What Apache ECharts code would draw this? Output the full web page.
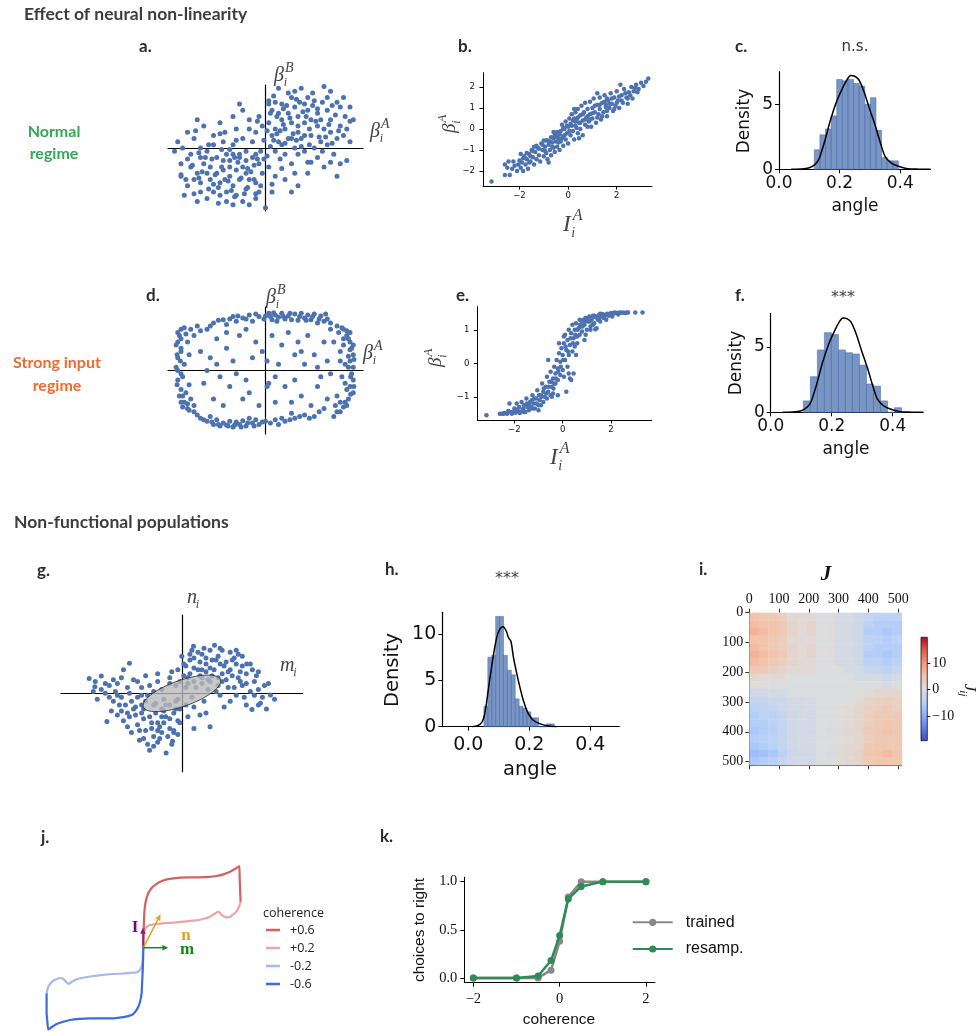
<!DOCTYPE html>
<html><head><meta charset="utf-8">
<script src="https://cdn.jsdelivr.net/npm/echarts@6.0.0/dist/echarts.min.js"></script>
<style>html,body{margin:0;padding:0;background:#fff}#c{width:980px;height:1032px}</style>
</head><body><div id="c"></div>
<script>
// ---------------- DATA ----------------
const scatterA = [[0.2,1.2],[0.5,0.9],[0.9,1.3],[1.2,0.8],[1.6,1.1],[2.0,0.9],[2.3,1.3],[1.4,0.4],[0.7,0.3],[0.3,0.6],[1.0,0.5],[1.8,0.6],[2.2,0.3],[2.6,0.2],[1.5,1.5],[0.8,1.6],[0.4,1.9],[1.1,1.9],[1.9,1.6],[2.4,1.6],[0.1,0.8],[0.6,0.6],[1.3,1.2],[1.7,0.2],[2.1,-0.2],[2.5,-0.4],[0.9,0.0],[0.4,0.2],[1.2,-0.1],[1.6,-0.3],[2.0,0.5],[0.5,1.4],[1.0,1.0],[1.4,0.9],[0.2,0.4],[0.7,1.1],[1.9,1.2],[2.3,0.7],[2.7,0.9],[1.1,0.3],[0.6,-0.2],[1.5,0.0],[1.8,-0.6],[1.3,-0.8],[2.2,-0.9],[0.8,-0.5],[0.3,-0.1],[1.0,0.7],[1.7,0.9],[0.9,1.8],[1.3,1.6],[0.1,1.5],[0.5,0.1],[2.0,1.8],[2.5,0.6],[1.6,0.7],[0.4,1.1],[1.2,0.4],[0.8,0.8],[1.9,0.1],[0.15,0.05],[0.35,0.45],[1.45,1.35],[2.15,1.05],[0.65,1.35],[1.05,1.45],[1.75,1.45],[2.45,1.0],[0.25,1.65],[1.35,0.1],[2.6,1.3],[0.55,0.75],[1.15,1.15],[1.85,0.35],[0.95,0.25],
[-0.3,-1.1],[-0.6,-0.8],[-1.0,-1.2],[-1.3,-0.7],[-1.7,-1.0],[-2.1,-0.8],[-2.4,-1.2],[-1.5,-0.3],[-0.8,-0.2],[-0.2,-0.5],[-1.1,-0.4],[-1.9,-0.5],[-2.3,-0.2],[-2.7,0.2],[-1.6,-1.4],[-0.9,-1.5],[-0.5,-1.8],[-1.2,-1.7],[-2.0,-1.4],[-2.5,-1.5],[-0.1,-0.8],[-0.7,-0.6],[-1.4,-1.1],[-1.8,-0.1],[-2.2,0.3],[-2.4,0.5],[-1.0,0.1],[-0.4,-0.3],[-1.3,0.2],[-1.6,0.4],[-2.0,-0.3],[-0.6,-1.3],[-1.1,-0.9],[-1.5,-0.8],[-0.3,-0.2],[-0.8,-1.0],[-2.0,-1.1],[-2.3,-0.6],[-2.6,-0.9],[-1.2,-0.2],[-0.7,0.3],[-1.6,0.1],[-1.9,0.7],[-1.4,0.8],[-2.1,0.9],[-0.9,0.6],[-0.4,0.2],[-1.1,-0.6],[-1.8,-0.8],[-1.0,-1.8],[-1.4,-1.5],[-0.2,-1.4],[-0.6,-0.1],[-2.1,-1.7],[-2.6,-0.5],[-1.7,-0.6],[-0.5,-1.0],[-1.3,-0.4],[-0.9,-0.7],[-2.0,0.0],[-0.15,-0.1],[-0.35,-0.55],[-1.45,-1.25],[-2.2,-1.0],[-0.65,-1.45],[-1.05,-1.35],[-1.75,-1.3],[-2.45,-1.0],[-0.3,-1.6],[-1.35,-0.05],[-2.55,0.0],[-0.55,-0.65],[-1.15,-1.05],[-1.85,-0.3],[-0.95,-0.3],
[0.1,-0.6],[-0.1,0.7],[0.3,-0.9],[-0.2,1.0],[0.6,-1.0],[-0.5,0.9],[0.2,-1.4],[-0.7,1.2],[1.0,-1.2],[-1.0,1.0],[0.0,-1.9],[0.1,1.4],[-0.3,0.5],[0.45,-0.35],[-2.8,-0.1],[2.3,-0.5],[0.8,-1.4],[-0.8,1.4],
[0.35,1.0],[0.75,0.95],[1.25,1.0],[1.55,0.85],[1.95,0.75],[2.25,0.55],[0.45,0.55],[0.85,0.45],[1.35,0.6],[1.65,0.35],[2.05,0.15],[0.25,0.25],[0.6,0.15],[1.0,-0.2],[1.4,-0.45],[1.75,-0.1],[0.15,1.1],[0.55,1.25],[0.95,1.55],[1.45,1.75],[1.8,1.95],[2.2,1.45],[2.6,0.85],[2.4,0.4],[0.05,0.55],[0.3,1.45],[0.7,1.75],[1.2,1.4],[1.6,1.25],[2.05,1.35],[0.8,0.3],[1.1,0.05],
[-0.35,-1.0],[-0.75,-0.95],[-1.25,-1.0],[-1.55,-0.85],[-1.95,-0.75],[-2.25,-0.55],[-0.45,-0.75],[-0.85,-0.45],[-1.35,-0.6],[-1.65,-0.35],[-2.05,-0.15],[-0.25,-0.35],[-0.6,-0.4],[-1.0,-0.2],[-1.4,0.45],[-1.75,0.1],[-0.15,-1.2],[-0.55,-1.25],[-0.95,-1.55],[-1.45,-1.75],[-1.8,-1.6],[-2.2,-1.45],[-2.6,-0.85],[-2.4,-0.35],[-0.05,-0.35],[-0.3,-1.45],[-0.7,-1.7],[-1.2,-1.4],[-1.6,-1.15],[-2.05,-0.95],[-0.8,-0.3],[-1.1,-0.05],
[0.05,-0.25],[-0.05,0.25],[0.5,-0.65],[-0.5,0.6],[0.9,-0.8],[-0.9,0.25],[1.3,-0.45],[-1.25,0.5],[0.2,-1.15],[-0.25,0.85],[2.0,-0.45],[-2.15,0.55]];

const scatterB = [[-3.15,-2.5],[-2.6,-1.7],[-2.6,-2.2],[-2.4,-2.2],[-2.3,-1.9],[-2.2,-1.75],[-2.1,-2.0],[-2.0,-1.5],[-1.95,-1.85],[-1.9,-1.6],[-1.85,-2.0],[-1.8,-1.3],[-1.75,-1.7],[-1.7,-1.45],[-1.65,-1.9],[-1.6,-1.2],[-1.55,-1.55],[-1.5,-1.0],[-1.45,-1.35],[-1.4,-1.7],[-1.35,-1.1],[-1.3,-1.45],[-1.25,-0.9],[-1.2,-1.25],[-1.15,-1.55],[-1.1,-0.7],[-1.05,-1.0],[-1.0,-1.3],[-0.95,-0.85],[-0.9,-0.55],[-0.9,-1.15],[-0.85,-1.45],[-0.8,-0.75],[-0.75,-1.0],[-0.7,-0.4],[-0.7,-1.25],[-0.65,-0.65],[-0.6,-0.9],[-0.55,-0.3],[-0.55,-1.1],[-0.5,-0.6],[-0.45,-0.15],[-0.45,-0.85],[-0.4,-0.45],[-0.35,-1.0],[-0.3,-0.1],[-0.3,-0.6],[-0.25,0.2],[-0.2,-0.35],[-0.2,-0.8],[-0.15,0.0],[-0.1,-0.5],[-0.1,0.35],[-0.05,-0.2],[0.0,0.1],[0.0,-0.7],[0.05,0.5],[0.1,-0.3],[0.1,0.25],[0.15,0.7],[0.2,-0.1],[0.2,0.4],[0.25,-0.5],[0.3,0.15],[0.3,0.8],[0.35,0.45],[0.4,-0.2],[0.4,0.95],[0.45,0.3],[0.5,0.65],[0.5,0.0],[0.55,1.1],[0.6,0.4],[0.6,-0.3],[0.65,0.8],[0.7,0.2],[0.7,1.25],[0.75,0.55],[0.8,0.95],[0.85,0.35],[0.9,1.3],[0.9,0.7],[0.95,0.1],[1.0,1.0],[1.0,0.5],[1.05,1.45],[1.1,0.8],[1.15,0.3],[1.2,1.15],[1.25,0.7],[1.3,1.5],[1.3,0.95],[1.35,0.45],[1.4,1.25],[1.45,0.8],[1.5,1.6],[1.55,1.05],[1.6,0.6],[1.65,1.35],[1.7,1.0],[1.75,1.7],[1.8,1.2],[1.85,0.85],[1.9,1.5],[1.95,1.1],[2.0,1.8],[2.05,1.35],[2.1,1.0],[2.2,1.6],[2.25,1.25],[2.3,1.9],[2.4,1.5],[2.45,1.2],[2.5,1.75],[2.6,2.0],[2.65,1.45],[2.7,1.8],[2.8,2.1],[2.9,1.9],[3.0,2.2],[3.1,2.05],[3.3,2.4],[-1.0,-0.55],[-0.6,-0.15],[0.25,0.95],[0.8,0.1],[1.6,1.45],[-1.4,-0.85],[2.15,2.1],[-0.8,-1.6],[1.2,1.7],[0.45,-0.45],[-2.45,-1.55],[-1.95,-1.2],
[-2.5,-1.85],[-2.25,-1.55],[-2.05,-1.7],[-1.85,-1.4],[-1.7,-1.15],[-1.55,-1.3],[-1.45,-1.05],[-1.3,-0.8],[-1.2,-0.95],[-1.05,-0.75],[-0.95,-1.05],[-0.85,-0.55],[-0.75,-0.6],[-0.65,-0.85],[-0.6,-0.45],[-0.5,-0.35],[-0.4,-0.65],[-0.35,-0.25],[-0.25,-0.45],[-0.15,-0.3],[-0.05,0.15],[0.05,-0.1],[0.15,0.15],[0.25,0.5],[0.35,0.05],[0.4,0.55],[0.5,0.3],[0.6,0.7],[0.7,0.45],[0.8,0.6],[0.9,0.45],[1.0,0.75],[1.1,1.1],[1.2,0.55],[1.3,1.15],[1.4,0.6],[1.5,1.3],[1.6,0.85],[1.7,1.2],[1.8,1.45],[1.9,0.95],[2.0,1.25],[2.1,1.55],[2.2,1.35],[2.35,1.7],[2.45,1.45],[2.55,1.6],[2.75,1.95],[2.85,1.75],[3.2,2.25],[-0.2,0.05],[0.3,0.35],[-1.6,-1.6],[1.55,1.15]];

const scatterD = [[-1.6,1.5],[-1.3,1.6],[-1.0,1.7],[-0.7,1.65],[-0.5,1.75],[-0.2,1.7],[0.1,1.8],[0.3,1.75],[0.5,1.8],[0.7,1.72],[0.9,1.78],[1.1,1.8],[1.3,1.75],[1.5,1.78],[1.7,1.72],[1.9,1.62],[0.2,1.6],[0.6,1.62],[1.0,1.58],[1.4,1.6],[0.4,1.68],[0.8,1.6],[1.2,1.65],[-0.9,1.55],[-1.2,1.45],[-0.4,1.55],[1.6,1.5],[2.0,1.5],[-1.8,1.3],[-0.05,1.62],[1.85,1.78],[0.15,1.7],
[2.2,1.4],[2.4,1.3],[2.5,1.1],[2.6,0.9],[2.65,0.7],[2.7,0.5],[2.6,0.3],[2.7,0.1],[2.65,-0.1],[2.7,-0.3],[2.6,-0.5],[2.7,-0.7],[2.55,-0.9],[2.5,-1.1],[2.3,-1.3],[2.1,-1.45],[2.4,0.8],[2.3,0.6],[2.45,0.2],[2.35,-0.2],[2.5,-0.6],[2.2,-0.8],[2.4,1.0],[2.55,0.45],[2.25,1.2],[2.1,0.9],[2.45,-0.4],[2.3,-1.0],[2.6,1.2],[2.0,1.3],
[-2.0,-1.5],[-1.8,-1.6],[-1.6,-1.7],[-1.4,-1.75],[-1.2,-1.72],[-1.0,-1.78],[-0.8,-1.7],[-0.6,-1.75],[-0.4,-1.65],[-0.2,-1.7],[0.0,-1.6],[0.3,-1.55],[0.6,-1.6],[0.9,-1.5],[1.2,-1.4],[1.5,-1.45],[-1.5,-1.55],[-1.1,-1.6],[-0.7,-1.58],[-1.3,-1.65],[-0.9,-1.62],[-1.7,-1.45],[-0.3,-1.55],[0.8,-1.35],[1.8,-1.2],[-2.2,-1.3],[-0.5,-1.5],[0.4,-1.7],
[-2.7,1.2],[-2.6,1.0],[-2.75,0.8],[-2.6,0.6],[-2.7,0.4],[-2.75,0.1],[-2.6,-0.1],[-2.7,-0.3],[-2.6,-0.6],[-2.65,-0.8],[-2.5,-1.0],[-2.4,-1.2],[-2.3,-0.9],[-2.45,-0.7],[-2.3,1.3],[-2.1,1.4],[-2.4,0.9],[-2.35,0.5],[-2.5,0.2],[-2.2,-1.1],[-2.55,-1.15],[-2.35,-0.45],[-2.2,1.1],[-2.0,1.25],[-2.5,1.35],
[-1.5,1.0],[-1.2,0.7],[-0.8,1.1],[-0.3,0.9],[-1.7,0.4],[-1.0,0.3],[-0.4,0.4],[0.2,1.1],[0.7,1.2],[1.3,1.1],[1.8,0.9],[1.5,0.5],[0.9,0.5],[0.4,0.2],[1.2,0.2],[1.9,0.3],[0.1,-0.4],[0.6,-0.5],[1.1,-0.8],[1.6,-0.5],[1.9,-0.9],[0.8,-1.0],[-0.6,-0.3],[-1.1,-0.5],[-1.6,-0.9],[-1.9,-0.4],[-1.3,-1.1],[-0.7,-0.9],[-0.2,-1.1],[0.3,-1.0],[-1.8,0.0],[-0.9,-0.1],[1.4,-1.1],[0.05,-0.5],[0.05,0.3],[-0.6,1.3],[1.0,0.9],[-1.4,-0.2],[1.7,-0.2],[-2.0,0.6],[2.0,-0.1],
[-1.45,1.58],[-1.1,1.62],[-0.85,1.72],[-0.6,1.62],[-0.3,1.78],[0.0,1.72],[0.25,1.82],[0.55,1.7],[0.75,1.8],[1.05,1.7],[1.25,1.58],[1.45,1.7],[1.65,1.62],[1.8,1.55],[-1.7,1.4],[0.35,1.55],
[2.35,1.35],[2.5,1.25],[2.55,1.0],[2.7,0.8],[2.6,0.65],[2.72,0.35],[2.55,0.1],[2.62,-0.2],[2.72,-0.5],[2.62,-0.75],[2.45,-1.0],[2.4,-1.15],[2.2,-1.3],[2.15,-1.1],[2.3,0.3],
[-1.9,-1.55],[-1.65,-1.62],[-1.45,-1.7],[-1.15,-1.75],[-0.95,-1.72],[-0.75,-1.78],[-0.55,-1.65],[-0.35,-1.75],[-0.1,-1.62],[0.15,-1.65],[0.5,-1.5],[0.75,-1.55],[1.05,-1.45],[1.35,-1.5],[1.65,-1.3],[-2.1,-1.4],
[-2.65,1.1],[-2.7,0.9],[-2.6,0.7],[-2.72,0.5],[-2.62,0.3],[-2.7,0.0],[-2.55,-0.2],[-2.72,-0.45],[-2.55,-0.8],[-2.6,-1.0],[-2.4,-1.05],[-2.35,-1.25],[-2.45,1.15],[-2.6,1.3],
[-1.2,1.2],[0.5,0.8],[1.1,0.6],[-0.5,-0.7],[0.3,-0.2],[-1.5,0.2],[1.6,0.1],[-0.1,0.6],[0.9,-0.3]];

const scatterE = [[-3.15,-1.55],[-2.6,-1.5],[-2.4,-1.48],[-2.3,-1.5],[-2.2,-1.2],[-2.15,-1.45],[-2.1,-1.5],[-2.0,-1.35],[-1.95,-1.47],[-1.9,-1.2],[-1.85,-1.42],[-1.8,-1.3],[-1.75,-1.45],[-1.7,-1.15],[-1.65,-1.38],[-1.6,-1.25],[-1.55,-1.45],[-1.5,-1.05],[-1.45,-1.3],[-1.4,-1.4],[-1.35,-1.15],[-1.3,-1.3],[-1.25,-0.95],[-1.2,-1.2],[-1.15,-1.35],[-1.1,-1.05],[-1.05,-0.8],[-1.0,-1.25],[-0.95,-1.1],[-0.9,-0.95],[-0.85,-0.6],[-0.8,-1.15],[-0.8,-0.85],[-0.75,-1.0],[-0.7,-0.7],[-0.65,-0.4],[-0.65,-1.05],[-0.6,-0.85],[-0.55,-0.55],[-0.5,-0.95],[-0.5,-0.25],[-0.45,-0.7],[-0.4,-0.45],[-0.4,-0.9],[-0.35,-0.1],[-0.3,-0.6],[-0.3,-0.3],[-0.25,0.1],[-0.2,-0.5],[-0.2,-0.15],[-0.15,0.3],[-0.1,-0.35],[-0.1,0.05],[-0.05,0.45],[0.0,-0.2],[0.0,0.25],[0.05,0.6],[0.05,-0.4],[0.1,0.1],[0.1,0.85],[0.15,0.4],[0.2,-0.1],[0.2,0.7],[0.25,1.0],[0.25,0.25],[0.3,0.55],[0.35,0.9],[0.35,-0.5],[0.4,0.35],[0.4,1.15],[0.45,0.75],[0.5,1.0],[0.5,0.5],[0.55,1.2],[0.6,0.8],[0.6,0.6],[0.65,1.05],[0.7,1.3],[0.7,0.85],[0.75,1.1],[0.8,0.95],[0.85,1.3],[0.9,1.15],[0.9,0.7],[0.95,1.35],[1.0,1.0],[1.05,1.25],[1.1,1.4],[1.15,1.1],[1.2,1.3],[1.25,1.42],[1.3,1.2],[1.35,1.38],[1.4,1.05],[1.45,1.3],[1.5,1.44],[1.55,1.25],[1.6,1.4],[1.65,1.46],[1.7,1.35],[1.75,1.45],[1.8,1.3],[1.85,1.48],[1.9,1.42],[2.0,1.5],[2.05,1.4],[2.1,1.48],[2.2,1.5],[2.3,1.46],[2.4,1.51],[2.5,1.52],[2.6,1.5],[2.7,1.52],[3.0,1.52],[3.3,1.52],[1.15,1.0],[1.35,1.02],[0.3,-0.45],[-0.2,-0.95],[-1.6,-1.45],[-2.5,-1.5],[-1.0,-1.4],[0.8,1.25],[1.55,1.48],[-0.45,-1.0],[-1.25,-1.35],[2.15,1.52],[0.45,-0.3],[-0.6,0.1],[0.15,-0.85],
[-2.45,-1.5],[-2.25,-1.42],[-2.05,-1.45],[-1.9,-1.38],[-1.78,-1.48],[-1.62,-1.35],[-1.48,-1.2],[-1.38,-1.25],[-1.28,-1.1],[-1.18,-1.05],[-1.08,-1.2],[-0.98,-0.95],[-0.88,-1.0],[-0.78,-0.75],[-0.68,-0.9],[-0.58,-0.7],[-0.48,-0.55],[-0.38,-0.75],[-0.28,-0.45],[-0.18,-0.25],[-0.08,-0.1],[0.02,0.1],[0.12,0.5],[0.22,0.35],[0.32,0.75],[0.42,0.6],[0.52,0.85],[0.62,1.0],[0.72,1.15],[0.82,1.1],[0.92,1.25],[1.02,1.32],[1.12,1.25],[1.22,1.38],[1.32,1.42],[1.42,1.4],[1.52,1.35],[1.62,1.47],[1.72,1.42],[1.82,1.46],[1.95,1.47],[2.08,1.5],[2.25,1.5],[2.35,1.52],[2.55,1.5],[2.65,1.52],[0.55,0.25],[0.05,0.8],[-0.35,-0.6],[-0.9,-1.25],[1.25,1.15],[0.95,0.85],[-0.15,0.6],[0.25,-0.3]];

const scatterG = [[0.1,0.7],[0.3,0.9],[0.5,1.0],[0.7,1.1],[0.9,0.95],[1.1,0.8],[1.3,0.9],[1.5,0.7],[0.2,0.5],[0.4,0.6],[0.6,0.75],[0.8,0.6],[1.0,0.5],[1.2,0.6],[1.4,0.4],[1.6,0.5],[1.8,0.3],[0.3,0.3],[0.5,0.4],[0.7,0.3],[0.9,0.2],[1.1,0.35],[1.3,0.15],[1.5,0.2],[1.7,0.05],[1.9,0.1],[2.0,-0.1],[2.2,-0.04],[0.81,1.23],[0.29,1.2],[1.0,1.1],[1.2,1.05],[1.61,0.75],[0.6,0.55],[0.85,0.85],[1.05,0.7],[0.45,0.8],[0.15,0.25],[0.35,0.15],[0.65,0.1],[1.25,0.45],[1.45,0.55],[1.75,0.6],[1.55,-0.1],[1.74,-0.41],[1.9,-0.3],[1.2,-0.2],[0.95,-0.05],[0.55,-0.2],[0.25,-0.1],[0.05,0.45],[0.0,0.95],[-0.1,0.6],[0.75,0.45],[1.35,0.75],[2.05,0.2],[1.95,-0.25],[2.1,-0.4],[1.6,0.25],[0.4,1.05],[0.9,0.4],[1.15,0.15],[0.2,0.85],[0.7,0.65],[1.4,1.0],[1.85,0.45],[-0.05,0.3],[0.5,0.25],[1.05,-0.35],[0.7,-0.85],[0.45,-0.55],
[-0.1,-0.7],[-0.3,-0.9],[-0.5,-1.0],[-0.7,-1.1],[-0.9,-0.95],[-1.1,-0.8],[-1.3,-0.6],[-0.2,-0.5],[-0.4,-0.6],[-0.6,-0.75],[-0.8,-0.6],[-1.0,-0.5],[-1.2,-0.4],[-1.4,-0.3],[-0.3,-0.3],[-0.5,-0.4],[-0.7,-0.3],[-0.9,-0.2],[-1.1,-0.1],[-1.3,0.0],[-1.5,-0.1],[-0.39,-1.52],[-0.23,-1.22],[-0.6,-1.25],[-0.85,-1.3],[-1.05,-1.2],[-1.25,-1.0],[-1.86,-0.72],[-1.6,-0.55],[-1.7,-0.2],[-1.9,0.0],[-2.0,0.1],[-1.8,0.2],[-1.6,0.25],[-2.3,0.38],[-2.0,0.44],[-2.16,0.17],[-1.3,0.77],[-1.1,0.3],[-0.8,0.2],[-0.5,0.1],[-0.3,0.25],[-0.15,-0.2],[-0.45,-0.15],[-0.65,-0.5],[-0.95,-0.65],[-1.15,-0.35],[-1.45,-0.7],[-0.35,-1.1],[-0.55,-0.85],[-0.75,-0.9],[-1.5,0.4],[-1.2,0.35],[-0.9,0.45],[-0.6,0.5],[-1.75,-0.45],[-1.35,-0.85],[-0.2,-0.95],[-0.05,-0.4],[-0.8,-1.45],[-1.0,-0.05],[-0.4,-0.3],[-1.65,0.05],[-2.1,-0.15],[-0.25,0.55],[-0.7,0.05],[-1.55,-0.3],[-0.45,-0.75],[-1.0,0.15],[-0.1,-1.05],[0.15,-0.6],[0.3,-0.9],
[0.2,1.0],[0.55,1.15],[0.95,1.15],[1.35,1.1],[0.15,0.4],[0.45,0.45],[0.75,0.85],[1.0,0.3],[1.25,0.85],[1.5,0.95],[1.7,0.75],[1.9,0.55],[2.15,0.25],[1.6,-0.3],[1.35,-0.05],[0.85,0.05],[0.6,0.9],[0.3,0.65],[0.1,0.15],[1.15,0.55],[0.95,0.75],[0.5,0.6],[0.25,1.1],[1.8,-0.05],[2.3,-0.15],[0.05,0.75],[0.65,0.35],[1.45,0.3],
[-0.2,-1.0],[-0.55,-1.15],[-0.95,-1.15],[-1.35,-0.5],[-0.15,-0.4],[-0.45,-0.45],[-0.75,-0.75],[-1.0,-0.3],[-1.25,-0.2],[-1.5,-0.45],[-1.7,0.35],[-1.9,0.25],[-2.15,0.3],[-1.6,-0.05],[-1.35,0.15],[-0.85,-0.05],[-0.6,-0.95],[-0.3,-0.65],[-0.1,-0.15],[-1.15,-0.55],[-0.95,-0.4],[-0.5,-0.6],[-0.25,-1.3],[-1.8,-0.1],[-2.2,0.05],[-0.05,-0.75],[-0.65,-0.25],[-1.45,0.6],[-0.7,-1.35],[-1.05,-0.95],
[0.3,-0.35],[-0.3,0.4],[0.6,-0.5],[-0.6,0.3],[0.1,-0.3],[-0.15,0.2]];
const ellipseG = [[0, 0, 1.02, 0.33, 20]]; // cx, cy, semi-major, semi-minor, angle(deg)

// histograms
const cBinEdges = [0.1165,0.135,0.1535,0.172,0.1905,0.209,0.2275,0.246,0.2645,0.283,0.3015,0.32,0.3385,0.357,0.3755,0.394];
const cBinHeights = [1.5,2.65,3.1,4.1,6.9,6.8,6.9,6.6,6.4,5.0,5.5,3.0,0.9,0.65,0.65];
const fBinEdges = [0.107,0.130,0.153,0.176,0.199,0.222,0.245,0.268,0.291,0.314,0.337,0.360,0.383,0.406,0.429];
const fBinHeights = [0.87,2.72,4.76,6.08,5.95,4.76,4.55,4.45,3.6,2.16,2.0,0.87,0,0.35];
const hBinEdges = [0.0515,0.0643,0.0771,0.0899,0.1027,0.1155,0.1283,0.1411,0.1539,0.1667,0.1795,0.1923,0.2051,0.2179,0.2307,0.2435,0.2563,0.2691,0.2819];
const hBinHeights = [2.2,7.5,7.7,11.9,11.9,7.7,6.1,5.6,3.0,2.2,2.0,1.6,0.95,0.95,0,0,0.3,0.3];
const kdeRefX = [0.04,0.07,0.10,0.12,0.133,0.152,0.17,0.19,0.209,0.225,0.237,0.25,0.263,0.28,0.298,0.317,0.335,0.35,0.37,0.392,0.42,0.46,0.5];
const kdeRefY = [0,0.02,0.12,0.4,0.85,2.25,3.8,5.2,6.2,6.9,7.2,7.15,6.9,6.0,4.7,3.4,2.0,1.0,0.5,0.25,0.07,0.01,0];
const kdeHX = [0.012,0.03,0.045,0.052,0.06,0.067,0.074,0.08,0.087,0.094,0.1,0.108,0.114,0.118,0.125,0.132,0.14,0.148,0.156,0.164,0.172,0.18,0.19,0.197,0.213,0.236,0.258,0.29];
const kdeHY = [0,0.1,0.5,1.1,2.6,4.3,5.9,7.2,8.6,9.7,10.3,10.7,10.8,10.7,10.3,9.6,9.2,7.5,6.2,5.0,3.9,2.9,1.9,1.4,0.7,0.3,0.1,0];

// connectivity matrix J (block-averaged)
const heatColEdges = [0,32,64,96,128,160,192,224,256,288,320,352,384,416,448,480,512];
const heatRowEdges = [0,25.6,51.2,76.8,102.4,128,153.6,179.2,204.8,230.4,256,281.6,307.2,332.8,358.4,384,409.6,435.2,460.8,486.4,512];
const heatValues = [
[5,4,4,3,1,1,1,0,0,-1,-1,-2,-3,-4,-4,-4],
[6,5,5,4,2,1,2,0,0,-1,-1,-2,-4,-5,-5,-5],
[7,6,5,4,2,1,2,0,1,-1,-1,-2,-5,-5,-6,-5],
[5,5,4,3,1,1,1,0,0,-1,-1,-2,-4,-4,-5,-4],
[6,5,4,3,2,1,2,0,0,-1,-1,-2,-4,-5,-5,-5],
[7,6,5,4,2,1,2,0,1,-1,-1,-2,-5,-5,-6,-5],
[6,5,4,3,2,1,1,0,0,-1,-1,-2,-4,-4,-5,-4],
[4,4,3,2,1,1,1,0,0,0,-1,-1,-3,-3,-4,-3],
[2,1,1,1,0,0,0,0,0,0,0,-1,-1,-1,-2,-1],
[0.5,0,0,0,0,0,0,0,0,0,0,0,0,0,-0.5,0],
[-1.5,-1.5,-1,-1,0,0,0,0,0,0,0,0.5,1,1.5,1.5,1.5],
[-3,-3,-2,-2,-1,-1,-1,0,0,0,0.5,1,2,2.5,3,2.5],
[-4,-4,-3,-2,-1,-1,-1,0,0,0.5,1,1.5,3,3,4,3],
[-5,-4,-4,-3,-1.5,-1,-1.5,0,0,0.5,1,1.5,3,4,4,4],
[-5,-5,-4,-3,-1.5,-1,-1.5,0,0,0.5,1,2,3,4,4.5,4],
[-6,-5,-4.5,-3,-1.5,-1,-1.5,0,-0.5,1,1.5,2,4,4.5,5,4.5],
[-5,-4.5,-4,-3,-1.5,-1,-1,0,0,0.5,1,1.5,3,4,4,4],
[-6,-5,-4.5,-3,-1.5,-1,-1.5,0,0,1,1.5,2,4,4.5,4.5,4.5],
[-7.5,-7,-6,-4,-2,-1.5,-1.5,0,-0.5,1,1.5,2.5,4.5,5,6,5],
[-6,-5,-4.5,-3,-1.5,-1,-1.5,0,0,1,1.5,2,4,4.5,4.5,4.5]];
const colorbarRange = [-19.5, 20];
const heatTicks = [0,100,200,300,400,500];
const colorbarTicks = [-10,0,10];

// trajectories (panel j)
const trajP06 = [[0,0],[0.03,1.5],[0.07,2.77],[0.12,3.7],[0.2,4.4],[0.35,5.05],[0.6,5.65],[1.0,6.15],[1.5,6.5],[2.0,6.72],[2.8,6.9],[3.67,7.0],[4.6,7.04],[5.67,7.04],[6.6,7.08],[7.33,7.17],[8.0,7.33],[8.67,7.6],[9.2,7.9],[9.6,8.17],[9.63,7.2],[9.67,6.1],[9.73,4.6]];
const trajP02 = [[0,0],[0.05,1.0],[0.1,1.7],[0.3,2.05],[0.6,2.25],[1.33,2.37],[2.2,2.45],[3.0,2.5],[4.0,2.6],[5.0,2.7],[5.9,2.85],[6.67,3.1],[7.2,3.45],[7.5,3.6],[7.7,3.45],[7.9,3.2],[8.33,3.04],[8.7,3.1],[9.0,3.34],[9.3,3.6],[9.5,3.94],[9.65,4.3],[9.73,4.6]];
const trajM02 = [[0,0],[-0.07,-1.23],[-0.15,-1.8],[-0.33,-2.23],[-0.6,-2.42],[-1.0,-2.5],[-2.0,-2.58],[-3.0,-2.63],[-4.0,-2.72],[-5.0,-2.83],[-5.9,-2.98],[-6.67,-3.16],[-7.2,-3.45],[-7.5,-3.63],[-7.7,-3.45],[-7.83,-3.3],[-8.1,-3.05],[-8.33,-3.03],[-8.7,-3.15],[-9.0,-3.3],[-9.3,-3.6],[-9.5,-3.9],[-9.67,-4.56]];
const trajM06 = [[0,0],[-0.03,-1.5],[-0.07,-2.56],[-0.12,-3.6],[-0.17,-4.56],[-0.3,-5.3],[-0.5,-5.9],[-0.8,-6.4],[-1.17,-6.73],[-2.0,-6.95],[-3.0,-7.06],[-4.2,-7.06],[-5.33,-7.06],[-6.4,-7.12],[-7.33,-7.23],[-8.0,-7.4],[-8.67,-7.63],[-9.1,-7.9],[-9.5,-8.16],[-9.6,-7.3],[-9.67,-6.56],[-9.67,-5.5],[-9.67,-4.56]];
const coherenceNames = ['+0.6','+0.2','-0.2','-0.6'];
const vecI = [0, 0, -0.05, 2.0];
const vecN = [0, 0, 1.73, 3.34];
const vecM = [0, 0, 2.5, 0];

// psychometric (panel k)
const kCoh = [-2,-1,-0.5,-0.2,0,0.2,0.5,1,2];
const kTrained = [0,0,0,0.08,0.38,0.84,1.0,1.0,1.0];
const kResamp = [0,0,0.02,0.18,0.44,0.82,0.95,1.0,1.0];

// ---------------- STYLE / HELPERS ----------------
const BLUE = '#4c72b0';
const COOLWARM = ['#3b4cc0','#5f7fe8','#8db0fe','#b8d0f9','#dddddd','#f4c3a9','#f4987a','#dc5d4a','#b40426'];
const minus = v => (v < 0 ? '\u2212' : '') + Math.abs(v);
const grids = [
  {left:168, top:85, width:195, height:126},      // 0 a
  {left:483, top:72.7, width:169, height:113.3},  // 1 b
  {left:779, top:71.7, width:151.5, height:97.6}, // 2 c
  {left:168, top:307, width:195, height:127},     // 3 d
  {left:477.3, top:306.7, width:174.4, height:113.3}, // 4 e
  {left:770.7, top:313.3, width:152.5, height:99}, // 5 f
  {left:61, top:615, width:241.7, height:156.7},   // 6 g
  {left:442.3, top:612.3, width:177, height:114.4}, // 7 h
  {left:749.3, top:612.7, width:152.4, height:152.4}, // 8 i
  {left:921, top:637.3, width:6.3, height:103.4},  // 9 colorbar
  {left:23.3, top:857.7, width:240, height:174},   // 10 j
  {left:464.3, top:877.3, width:190.7, height:105.4} // 11 k
].map(g => Object.assign({outerBoundsMode:'none', containLabel:false}, g));

function crossAxis(gi, min, max) {
  return {gridIndex:gi, type:'value', min, max,
    axisLine:{show:true, onZero:true, lineStyle:{color:'#000', width:1.2}},
    axisTick:{show:false}, axisLabel:{show:false}, splitLine:{show:false}};
}
function valAxis(gi, min, max, o) {
  o = o || {};
  const col = o.lineColor || '#000';
  return {gridIndex:gi, type:'value', min, max, position:o.position, inverse:!!o.inverse,
    axisLine:{show:o.line !== false, onZero:false, lineStyle:{color:col, width:o.lw || 1}},
    axisTick: o.ticks ? {show:true, customValues:o.ticks, length:o.tickLen || 3.5, inside:false, lineStyle:{color:col, width:1}} : {show:false},
    axisLabel: o.labels ? {show:true, customValues:o.labels, margin:o.margin || 5, fontSize:o.fs || 9,
      fontFamily:o.ff || 'DejaVu Sans', color:'#111', formatter:o.fmt || minus} : {show:false},
    splitLine:{show:false}};
}
function hiddenAxis(gi, min, max) { return {gridIndex:gi, type:'value', min, max, show:false, splitLine:{show:false}}; }

const xAxes = [
  crossAxis(0,-3,3),
  valAxis(1,-3.5,3.45,{ticks:[-2,0,2], labels:[-2,0,2], fs:8.5, margin:5}),
  valAxis(2,0,0.5,{ticks:[0,0.2,0.4], labels:[0,0.2,0.4], fs:17, margin:6, tickLen:4, lw:1.2, fmt:v=>v.toFixed(1)}),
  crossAxis(3,-3,3),
  valAxis(4,-3.53,3.68,{ticks:[-2,0,2], labels:[-2,0,2], fs:8.5, margin:5}),
  valAxis(5,0,0.5,{ticks:[0,0.2,0.4], labels:[0,0.2,0.4], fs:17, margin:6, tickLen:4, lw:1.2, fmt:v=>v.toFixed(1)}),
  crossAxis(6,-3,3),
  valAxis(7,-0.085,0.495,{ticks:[0,0.2,0.4], labels:[0,0.2,0.4], fs:19, margin:9, tickLen:4, lw:1.2, fmt:v=>v.toFixed(1)}),
  valAxis(8,0,512,{position:'top', line:false, ticks:heatTicks, labels:heatTicks, fs:14, ff:'Liberation Serif', margin:6, tickLen:4, lineColor:'#333'}),
  hiddenAxis(9,0,1),
  hiddenAxis(10,-12,12),
  valAxis(11,-2.21,2.21,{ticks:[-2,0,2], labels:[-2,0,2], fs:14.5, ff:'Liberation Serif', margin:9, tickLen:4}),
  valAxis(8,0,512,{position:'bottom', ticks:heatTicks, tickLen:4, lineColor:'#333'})
];
const yAxes = [
  crossAxis(0,-2,2),
  valAxis(1,-2.72,2.68,{ticks:[-2,-1,0,1,2], labels:[-2,-1,0,1,2], fs:8.5, margin:8}),
  valAxis(2,0,7.5,{ticks:[0,5], labels:[0,5], fs:17, margin:6, tickLen:4, lw:1.2}),
  crossAxis(3,-2,2),
  valAxis(4,-1.69,1.69,{ticks:[-1,0,1], labels:[-1,0,1], fs:8.5, margin:8}),
  valAxis(5,0,7.56,{ticks:[0,5], labels:[0,5], fs:17, margin:6, tickLen:4, lw:1.2}),
  crossAxis(6,-2,2),
  valAxis(7,0,12.35,{ticks:[0,5,10], labels:[0,5,10], fs:19, margin:6, tickLen:4, lw:1.2}),
  valAxis(8,0,512,{inverse:true, ticks:heatTicks, labels:heatTicks, fs:14, ff:'Liberation Serif', margin:6, tickLen:4, lineColor:'#333'}),
  valAxis(9,colorbarRange[0],colorbarRange[1],{position:'right', line:false, ticks:colorbarTicks, labels:colorbarTicks, fs:14, ff:'Liberation Serif', margin:5, tickLen:3}),
  hiddenAxis(10,-8.4,9),
  valAxis(11,-0.05,1.045,{ticks:[0,0.5,1], labels:[0,0.5,1], fs:14.5, ff:'Liberation Serif', margin:7, tickLen:4, fmt:v=>v.toFixed(1)})
];

function histRender(params, api) {
  const p0 = api.coord([api.value(0), api.value(2)]);
  const p1 = api.coord([api.value(1), 0]);
  return {type:'rect', shape:{x:p0[0], y:p0[1], width:p1[0]-p0[0], height:p1[1]-p0[1]},
    style:{fill:'rgba(76,114,176,0.75)', stroke:'rgba(76,114,176,0.95)', lineWidth:0.6}};
}
function histData(edges, h) { return h.map((v,i) => [edges[i], edges[i+1], v]); }
function zip(xs, ys) { return xs.map((x,i) => [x, ys[i]]); }
function heatRender(params, api) {
  const a = api.coord([api.value(0), api.value(2)]);
  const b = api.coord([api.value(1), api.value(3)]);
  return {type:'rect', shape:{x:Math.min(a[0],b[0]), y:Math.min(a[1],b[1]), width:Math.abs(b[0]-a[0])+0.4, height:Math.abs(b[1]-a[1])+0.4},
    style:{fill:api.visual('color')}};
}
const heatData = [];
heatValues.forEach((row, r) => row.forEach((v, c) => heatData.push([heatColEdges[c], heatColEdges[c+1], heatRowEdges[r], heatRowEdges[r+1], v])));
function colorbarRender(params, api) {
  const a = api.coord([0, api.value(1)]), b = api.coord([1, api.value(0)]);
  const stops = COOLWARM.slice().reverse().map((c,i,arr) => ({offset:i/(arr.length-1), color:c}));
  return {type:'rect', shape:{x:a[0], y:a[1], width:b[0]-a[0], height:b[1]-a[1]},
    style:{fill:new echarts.graphic.LinearGradient(0,0,0,1,stops), stroke:'#111', lineWidth:0.8}};
}
function ellipseRender(params, api) {
  const cx=api.value(0), cy=api.value(1), a=api.value(2), b=api.value(3), th=api.value(4)*Math.PI/180;
  const pts = [];
  for (let k = 0; k <= 90; k++) {
    const t = k/90*2*Math.PI, dx = a*Math.cos(t), dy = b*Math.sin(t);
    pts.push(api.coord([cx + dx*Math.cos(th) - dy*Math.sin(th), cy + dx*Math.sin(th) + dy*Math.cos(th)]));
  }
  return {type:'polygon', shape:{points:pts}, style:{fill:'rgba(185,185,185,0.78)', stroke:'#222', lineWidth:0.8}};
}
const arrowColors = ['#8a1a8a', '#e0a127', '#138a13'];
function arrowRender(params, api) {
  const p0 = api.coord([api.value(0), api.value(1)]), p1 = api.coord([api.value(2), api.value(3)]);
  const col = arrowColors[params.dataIndex];
  const ang = Math.atan2(p1[1]-p0[1], p1[0]-p0[0]), L = 6, W = 2.8;
  const bx = p1[0]-L*Math.cos(ang), by = p1[1]-L*Math.sin(ang);
  return {type:'group', children:[
    {type:'line', shape:{x1:p0[0], y1:p0[1], x2:bx, y2:by}, style:{stroke:col, lineWidth:1.5}},
    {type:'polygon', shape:{points:[[p1[0],p1[1]],[bx+W*Math.sin(ang), by-W*Math.cos(ang)],[bx-W*Math.sin(ang), by+W*Math.cos(ang)]]}, style:{fill:col}}]};
}

const series = [];
const sc = (gi, data, size) => series.push({type:'scatter', xAxisIndex:gi, yAxisIndex:gi, data, symbolSize:size, itemStyle:{color:BLUE, opacity:1}, silent:true, z:2});
sc(0, scatterA, 5);
sc(1, scatterB, 4.5);
series.push({type:'custom', xAxisIndex:2, yAxisIndex:2, renderItem:histRender, data:histData(cBinEdges,cBinHeights), encode:{x:[0,1], y:2}, z:2});
series.push({type:'line', xAxisIndex:2, yAxisIndex:2, data:zip(kdeRefX,kdeRefY), smooth:0.3, symbol:'none', lineStyle:{color:'#000', width:1.5}, z:3});
sc(3, scatterD, 5);
sc(4, scatterE, 4.5);
series.push({type:'custom', xAxisIndex:5, yAxisIndex:5, renderItem:histRender, data:histData(fBinEdges,fBinHeights), encode:{x:[0,1], y:2}, z:2});
series.push({type:'line', xAxisIndex:5, yAxisIndex:5, data:zip(kdeRefX,kdeRefY), smooth:0.3, symbol:'none', lineStyle:{color:'#000', width:1.5}, z:3});
sc(6, scatterG, 5);
series.push({type:'custom', xAxisIndex:6, yAxisIndex:6, renderItem:ellipseRender, data:ellipseG, z:3, silent:true});
series.push({type:'custom', xAxisIndex:7, yAxisIndex:7, renderItem:histRender, data:histData(hBinEdges,hBinHeights), encode:{x:[0,1], y:2}, z:2});
series.push({type:'line', xAxisIndex:7, yAxisIndex:7, data:zip(kdeHX,kdeHY), smooth:0.3, symbol:'none', lineStyle:{color:'#000', width:1.5}, z:3});
const heatIdx = series.length;
series.push({type:'custom', xAxisIndex:8, yAxisIndex:8, renderItem:heatRender, data:heatData, encode:{x:[0,1], y:[2,3]}, z:1});
series.push({type:'custom', xAxisIndex:9, yAxisIndex:9, renderItem:colorbarRender, data:[colorbarRange], z:2});
const trajColors = ['#d65f5f','#eaa5a5','#a5b8f0','#3f6be0'];
[trajP06, trajP02, trajM02, trajM06].forEach((d,i) => series.push({type:'line', name:coherenceNames[i], xAxisIndex:10, yAxisIndex:10, data:d, smooth:0.2, symbol:'none', lineStyle:{color:trajColors[i], width:2.2}, itemStyle:{color:trajColors[i]}, z:[4,2,2,4][i]}));
series.push({type:'custom', xAxisIndex:10, yAxisIndex:10, renderItem:arrowRender, data:[vecI, vecN, vecM], z:5});
series.push({type:'line', name:'trained', xAxisIndex:11, yAxisIndex:11, data:zip(kCoh,kTrained), symbol:'circle', symbolSize:7, lineStyle:{color:'#888888', width:2.5}, itemStyle:{color:'#888888'}, z:3});
series.push({type:'line', name:'resamp.', xAxisIndex:11, yAxisIndex:11, data:zip(kCoh,kResamp), symbol:'circle', symbolSize:7, lineStyle:{color:'#2e8b57', width:2.5}, itemStyle:{color:'#2e8b57'}, z:4});

// ---------------- TEXT ----------------
const G = [];
function txt(x, y, text, font, fill, o) {
  o = o || {};
  const al = o.align || 'center';
  G.push({type:'text', x, y, rotation:o.rot || 0, z:100, silent:true,
    style:{text, font, fill, textAlign:al, align:al, textVerticalAlign:'middle', verticalAlign:'middle'}});
}
function mlab(x, y, base, sub, sup, fs, o) {
  o = o || {};
  const col = o.color || '#444', bw = (o.bw || 0.55) * fs;
  const fam = '"Liberation Serif", "DejaVu Serif", serif';
  const st = (t, s) => ({text:t, font:(o.bold ? 'bold ' : '') + 'italic ' + s + 'px ' + fam, fill:col,
    textAlign:'left', align:'left', textVerticalAlign:'middle', verticalAlign:'middle'});
  const subL = sub ? sub.length*0.32*fs : 0, supL = sup ? sup.length*0.5*fs : 0;
  const total = bw + Math.max(subL, supL);
  const off = o.center ? -total/2 : 0;
  const ch = [{type:'text', x:off, y:0, style:st(base, fs)}];
  if (sup) ch.push({type:'text', x:off+bw, y:-0.4*fs, style:st(sup, Math.round(fs*0.68))});
  if (sub) ch.push({type:'text', x:off+bw-0.06*fs, y:0.36*fs, style:st(sub, Math.round(fs*0.62))});
  G.push({type:'group', x, y, rotation:o.rot || 0, z:100, silent:true, children:ch});
}
const HEAD = 'bold 17.5px Lato, "Open Sans", sans-serif';
const LET = 'bold 17px Lato, "Open Sans", sans-serif';
txt(24, 14, 'Effect of neural non-linearity', HEAD, '#3d3d3d', {align:'left'});
txt(14, 522, 'Non-functional populations', HEAD, '#3d3d3d', {align:'left'});
[['a.',139,47],['b.',458,47],['c.',735,47],['d.',146,296],['e.',456,296],['f.',735,296],['g.',37,571],['h.',385,570],['i.',699,570],['j.',41,838],['k.',380,837]]
  .forEach(l => txt(l[1], l[2], l[0], LET, '#2b2b2b', {align:'left'}));
const SIDE = 'bold 16px Lato, "Open Sans", sans-serif';
txt(54, 131.5, 'Normal', SIDE, '#35a853'); txt(54, 153.5, 'regime', SIDE, '#35a853');
txt(57, 363, 'Strong input', SIDE, '#f26a2e'); txt(57, 386, 'regime', SIDE, '#f26a2e');
// panel a / d
mlab(274, 76, '\u03b2', 'i', 'B', 20); mlab(370, 132, '\u03b2', 'i', 'A', 20);
mlab(266, 298, '\u03b2', 'i', 'B', 20); mlab(363, 354, '\u03b2', 'i', 'A', 20);
// panel b / e
mlab(450, 123, '\u03b2', 'i', 'A', 19, {rot:Math.PI/2, center:true});
mlab(563, 225, 'I', 'i', 'A', 23, {bw:0.42});
mlab(436, 357, '\u03b2', 'i', 'A', 19, {rot:Math.PI/2, center:true});
mlab(550, 458, 'I', 'i', 'A', 23, {bw:0.42});
// panel c / f / h
const DJ = 'px "DejaVu Sans", sans-serif';
txt(855, 47, 'n.s.', '15' + DJ, '#333');
txt(745, 121, 'Density', '17' + DJ, '#111', {rot:Math.PI/2});
txt(855, 207, 'angle', '17' + DJ, '#111');
txt(843, 298, '***', '16' + DJ, '#444');
txt(737, 363, 'Density', '17' + DJ, '#111', {rot:Math.PI/2});
txt(846, 450, 'angle', '17' + DJ, '#111');
txt(507, 579, '***', '16' + DJ, '#444');
txt(393, 670, 'Density', '19.5' + DJ, '#111', {rot:Math.PI/2});
txt(530, 770, 'angle', '19.5' + DJ, '#111');
// panel g
mlab(187, 598, 'n', 'i', null, 20, {bw:0.5});
mlab(280, 666, 'm', 'i', null, 20, {bw:0.72});
// panel i
txt(826, 575, 'J', 'bold italic 21px "Liberation Serif", serif', '#111');
mlab(969, 693, 'J', 'ij', null, 17, {rot:-Math.PI/2, center:true, bw:0.45, color:'#222'});
// panel j
txt(263, 913, 'coherence', '12.5px "Open Sans", sans-serif', '#222', {align:'left'});
txt(135, 928, 'I', 'bold 17px "Liberation Serif", serif', '#800080');
txt(186, 936, 'n', 'bold 17px "Liberation Serif", serif', '#e0a127');
txt(187, 950, 'm', 'bold 17px "Liberation Serif", serif', '#138a13');
// panel k
txt(420, 930, 'choices to right', '15.5px "Liberation Sans", sans-serif', '#111', {rot:Math.PI/2});
txt(559, 1020, 'coherence', '15.5px "Liberation Sans", sans-serif', '#111');

const option = {
  animation:false,
  backgroundColor:'#fff',
  textStyle:{fontFamily:'DejaVu Sans'},
  grid:grids, xAxis:xAxes, yAxis:yAxes, series,
  visualMap:[{type:'continuous', show:false, min:colorbarRange[0], max:colorbarRange[1], dimension:4, seriesIndex:heatIdx, inRange:{color:COOLWARM}}],
  legend:[
    {data:coherenceNames, orient:'vertical', left:266, top:923, padding:0, icon:'rect', itemWidth:14, itemHeight:2.5, itemGap:4, selectedMode:false,
      textStyle:{fontSize:12.5, fontFamily:'Open Sans', color:'#222', lineHeight:14,
        rich:{t:{padding:[0,0,0,5], fontSize:12.5, fontFamily:'Open Sans', color:'#222', lineHeight:14}}},
      formatter:n => '{t|' + n + '}'},
    {data:['trained','resamp.'], orient:'vertical', left:631.7, top:914.3, padding:0, itemWidth:40, itemHeight:9, itemGap:10.7, selectedMode:false,
      textStyle:{fontSize:16, fontFamily:'Liberation Sans', color:'#111', lineHeight:16, rich:{t:{padding:[0,0,0,8], fontSize:16, fontFamily:'Liberation Sans', lineHeight:16}}},
      formatter:n => '{t|' + n + '}'}
  ],
  graphic:{elements:G}
};
const chart = echarts.init(document.getElementById('c'), null, {renderer:'canvas', width:980, height:1032});
chart.setOption(option);
</script></body></html>
